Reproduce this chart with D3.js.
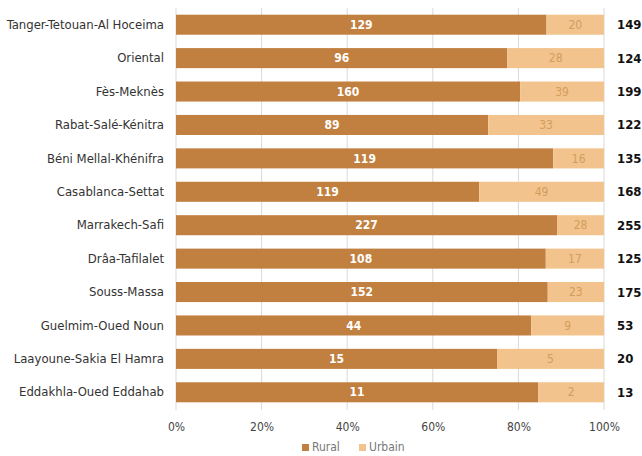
<!DOCTYPE html>
<html>
<head>
<meta charset="utf-8">
<script src="https://cdn.jsdelivr.net/npm/d3@7"></script>
<style>
  body { margin: 0; background: #fff; }
  text { font-family: "Liberation Sans Narrow", "DejaVu Sans Condensed", "Open Sans", sans-serif; }
</style>
</head>
<body>
<div id="chart"></div>
<script>
(function () {

    // data
    const regions = ["Tanger-Tetouan-Al Hoceima", "Oriental", "Fès-Meknès", "Rabat-Salé-Kénitra",
        "Béni Mellal-Khénifra", "Casablanca-Settat", "Marrakech-Safi", "Drâa-Tafilalet",
        "Souss-Massa", "Guelmim-Oued Noun", "Laayoune-Sakia El Hamra", "Eddakhla-Oued Eddahab"];
    const rural = [129, 96, 160, 89, 119, 119, 227, 108, 152, 44, 15, 11];
    const urbain = [20, 28, 39, 33, 16, 49, 28, 17, 23, 9, 5, 2];
    const xTicks = [0, 0.2, 0.4, 0.6, 0.8, 1];
    const seriesNames = ["Rural", "Urbain"];

    const width = 642, height = 456;
    const colRural = "#c1803f", colUrbain = "#f2c38c";

    let rows = regions.map((r, i) => {
        let t = rural[i] + urbain[i];
        return { region: r, rural: rural[i], urbain: urbain[i], total: t };
    });

    let svg = d3.select("#chart")
        .append("svg")
        .attr("width", width)
        .attr("height", height);

    let x = d3.scaleLinear().domain([0, 1]).range([176, 604]);
    let y = d3.scaleBand().domain(regions).range([8, 409])
        .paddingInner(0.4).paddingOuter(0.2);

    // vertical gridlines
    svg.append("g")
        .selectAll("line")
        .data(xTicks)
        .join("line")
        .attr("x1", d => x(d)).attr("x2", d => x(d))
        .attr("y1", 8).attr("y2", 410)
        .attr("stroke", "#d9d9d9")
        .attr("stroke-width", 1);

    let g = svg.append("g")
        .selectAll("g")
        .data(rows)
        .join("g")
        .attr("transform", d => `translate(0, ${y(d.region)})`);

    g.append("rect")
        .attr("x", x(0))
        .attr("width", d => x(d.rural / d.total) - x(0))
        .attr("height", y.bandwidth())
        .attr("fill", colRural);

    g.append("rect")
        .attr("x", d => x(d.rural / d.total))
        .attr("width", d => x(1) - x(d.rural / d.total))
        .attr("height", y.bandwidth())
        .attr("fill", colUrbain);

    // value labels
    g.append("text")
        .attr("x", d => (x(0) + x(d.rural / d.total)) / 2)
        .attr("y", y.bandwidth() / 2)
        .attr("dy", "0.35em")
        .attr("text-anchor", "middle")
        .style("font-size", "12px")
        .style("font-weight", "bold")
        .attr("fill", "#fff")
        .text(d => d.rural);

    g.append("text")
        .attr("x", d => (x(d.rural / d.total) + x(1)) / 2)
        .attr("y", y.bandwidth() / 2)
        .attr("dy", "0.35em")
        .attr("text-anchor", "middle")
        .style("font-size", "12px")
        .attr("fill", "#d39d5f")
        .text(d => d.urbain);

    // totals
    g.append("text")
        .attr("x", 617)
        .attr("y", y.bandwidth() / 2)
        .attr("dy", "0.35em")
        .style("font-size", "13px")
        .style("font-weight", "bold")
        .attr("fill", "#111")
        .text(d => d.total);

    // category labels
    let yAxis = svg.append("g")
        .attr("transform", "translate(164, 0)")
        .call(d3.axisLeft(y).tickSize(0).tickPadding(0));
    yAxis.select(".domain").remove();
    yAxis.selectAll("text")
        .style("font-size", "13px")
        .attr("fill", "#333");

    // x axis
    let xAxis = svg.append("g")
        .attr("transform", "translate(0, 410)")
        .call(d3.axisBottom(x).tickValues(xTicks).tickFormat(d3.format(".0%")).tickSize(0).tickPadding(12));
    xAxis.select(".domain").remove();
    xAxis.selectAll("text")
        .style("font-size", "12px")
        .attr("fill", "#444");

    // legend
    let legend = svg.append("g")
        .selectAll("g")
        .data(seriesNames)
        .join("g")
        .attr("transform", (d, i) => `translate(${i === 0 ? 302 : 359}, 447)`);
    legend.append("rect")
        .attr("x", 0).attr("y", -3)
        .attr("width", 7).attr("height", 7)
        .attr("fill", (d, i) => i === 0 ? colRural : colUrbain);
    legend.append("text")
        .attr("x", 10)
        .attr("dy", "0.35em")
        .style("font-size", "12px")
        .attr("fill", "#777")
        .text(d => d);
})();
</script>
</body>
</html>
